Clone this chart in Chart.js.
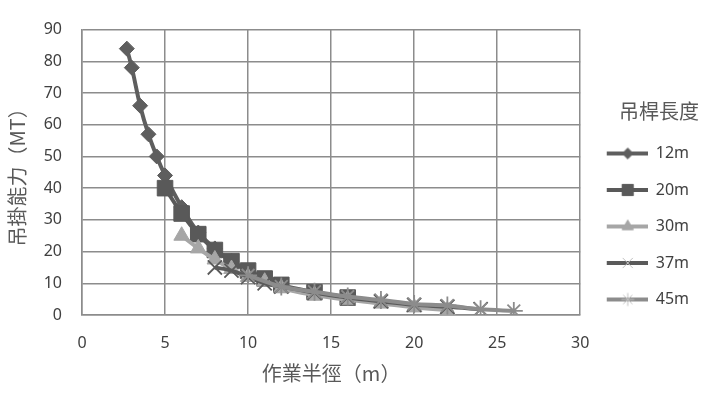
<!DOCTYPE html>
<html><head><meta charset="utf-8">
<script src="https://cdn.jsdelivr.net/npm/chart.js@4.4.1/dist/chart.umd.min.js"></script>
<style>html,body{margin:0;padding:0;background:#fff}#wrap{width:705px;height:393px}</style>
</head><body><div id="wrap"><canvas id="c" width="705" height="393"></canvas></div>
<script>
// Data
const seriesNames = ['12m','20m','30m','37m','45m'];
const radius12 = [2.7,3,3.5,4,4.5,5,6,7,8,9,10,11];
const load12   = [84,78,66,57,50,44,34,26,21,17,14,11.5];
const radius20 = [5,6,7,8,9,10,11,12,14,16];
const load20   = [40,32,25.5,20.5,17,14,11.5,9.5,7.2,5.5];
const radius30 = [6,7,8,9,10,11,12,14,16,18,20,22];
const load30   = [25,21,17.5,14.5,12,10.5,8.5,6.3,4.8,3.6,2.4,1.5];
const radius37 = [8,9,10,11,12,14,16,18,20,22,24];
const load37   = [15,14,12,10,9,7,5.5,4.3,3.2,2.6,1.8];
const radius45 = [10,12,14,16,18,20,22,24,26];
const load45   = [12.5,9,7.3,5.8,4.7,3.5,3,1.8,1.3];
const xTicks = [0,5,10,15,20,25,30];
const yTicks = [0,10,20,30,40,50,60,70,80,90];

const colors = ['#5e5e5e','#595959','#a6a6a6','#5a5a5a','#8c8c8c'];
const styles = ['rectRot','rect','triangle','crossRot','star'];
const radii  = [7.5,11,9,10,9];
const thin = s => s==='crossRot'||s==='star';

function pts(xs, ys){ return xs.map((x,i)=>({x:x,y:ys[i]})); }
const dataSets = [pts(radius12,load12),pts(radius20,load20),pts(radius30,load30),pts(radius37,load37),pts(radius45,load45)];

function legendImg(i){
  const cv=document.createElement('canvas'); cv.width=47; cv.height=20;
  const g=cv.getContext('2d');
  g.strokeStyle=colors[i]; g.fillStyle=colors[i]; g.lineWidth=4;
  g.beginPath(); g.moveTo(6,10); g.lineTo(47,10); g.stroke();
  g.lineWidth = 1;
  if(thin(styles[i])){ g.strokeStyle = '#c0c0c0'; }
  Chart.helpers.drawPoint(g,{pointStyle:styles[i],radius:radii[i]*0.72,rotation:0,borderWidth:1},27,10);
  return cv;
}

const ds = dataSets.map((d,i)=>({
  label: seriesNames[i], data:d,
  borderColor: colors[i], backgroundColor: colors[i],
  borderWidth: 4, pointStyle: styles[i], pointRadius: radii[i],
  pointBorderWidth: thin(styles[i])?1.8:1,
  pointBackgroundColor: colors[i], pointBorderColor: colors[i],
  cubicInterpolationMode:'monotone', tension:0.4, fill:false,
  order: 5-i
}));

const tickFont = {family:"'Noto Sans', 'Liberation Sans', sans-serif", size:16};
const cjkFont = {family:"'Noto Sans CJK TC', sans-serif", size:20};
new Chart(document.getElementById('c'), {
  type:'line',
  data:{datasets:ds},
  options:{
    responsive:false, animation:false, devicePixelRatio:1,
    layout:{padding:{left:0,right:6,top:0,bottom:0}},
    plugins:{
      tooltip:{enabled:false},
      legend:{
        position:'right', align:'center',
        title:{display:true,text:'吊桿長度',color:'#595959',font:cjkFont,padding:{top:36,bottom:0},position:'end'},
        labels:{
          usePointStyle:true, pointStyleWidth:47, boxHeight:18, padding:20.5,
          color:'#404040', font:tickFont,
          sort:(a,b)=>a.datasetIndex-b.datasetIndex,
          generateLabels:(chart)=>seriesNames.map((n,i)=>({text:n,datasetIndex:i,pointStyle:legendImg(i),fillStyle:colors[i],strokeStyle:colors[i],lineWidth:0,hidden:false,fontColor:'#404040'}))
        }
      }
    },
    scales:{
      x:{type:'linear',min:0,max:30,
        afterBuildTicks:s=>{s.ticks=xTicks.map(v=>({value:v}));},
        afterFit:s=>{s.height=78;},
        ticks:{color:'#404040',font:tickFont,padding:19},
        grid:{color:'#8c8c8c',lineWidth:1.5,drawTicks:false},
        border:{color:'#8c8c8c',width:1.5},
        title:{display:true,text:'作業半徑（m）',color:'#595959',font:cjkFont,padding:{top:4,bottom:8}}
      },
      y:{type:'linear',min:0,max:90,
        afterBuildTicks:s=>{s.ticks=yTicks.map(v=>({value:v}));},
        afterFit:s=>{s.width=82;},
        ticks:{color:'#404040',font:tickFont,padding:20},
        grid:{color:'#8c8c8c',lineWidth:1.5,drawTicks:false},
        border:{color:'#8c8c8c',width:1.5},
        title:{display:true,text:'吊掛能力（MT）',color:'#595959',font:cjkFont,padding:{top:5,bottom:4}}
      }
    }
  }
});
</script></body></html>
